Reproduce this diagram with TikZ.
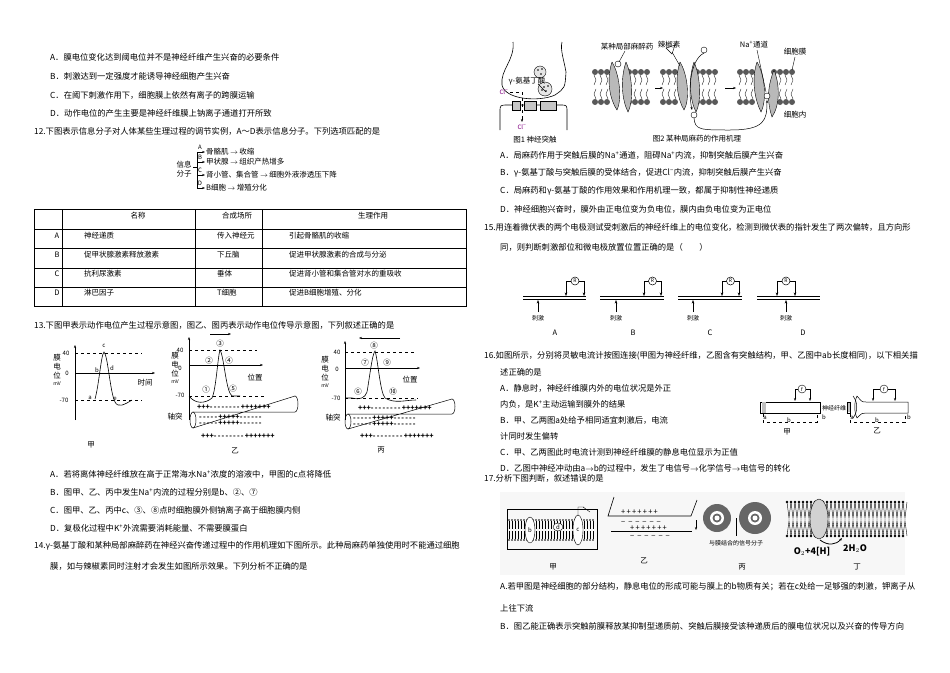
\documentclass[tikz,border=0pt]{standalone}
\usepackage{fontspec}
\setmainfont{Noto Sans CJK SC}
\usetikzlibrary{arrows.meta}
\tikzset{
 t/.style={anchor=west,inner sep=0pt,font=\fontsize{8.3}{10}\selectfont},
 s/.style={inner sep=0pt,font=\fontsize{7.5}{9}\selectfont},
 ss/.style={inner sep=0pt,font=\fontsize{6}{7}\selectfont},
 pm/.style={anchor=west,inner sep=0pt,font=\fontsize{7}{8}\selectfont\bfseries},
 ln/.style={line width=0.6pt},
 dl/.style={dashed,line width=0.5pt},
 ar/.style={-{Stealth[length=3pt]},line width=0.5pt},
 prot/.style={fill=gray!55,draw=black,line width=0.4pt},
}
\newcommand{\upp}[1]{\textsuperscript{#1}}
\newcommand{\chgout}[3]{\foreach \i in {1,...,#1}{+}\foreach \i in {1,...,#2}{-\,}\foreach \i in {1,...,#3}{+}}
\newcommand{\chgin}[3]{\foreach \i in {1,...,#1}{-\,}\foreach \i in {1,...,#2}{+}\foreach \i in {1,...,#3}{-\,}}
\begin{document}
\begin{tikzpicture}[x=1pt,y=-1pt]
\useasboundingbox (0,0) rectangle (950,672);
% ---------- left column text ----------
\node[t] (l1) at (50,57) {A．膜电位变化达到阈电位并不是神经纤维产生兴奋的必要条件};
\node[t] (l2) at (50,76) {B．刺激达到一定强度才能诱导神经细胞产生兴奋};
\node[t] (l3) at (50,95) {C．在阈下刺激作用下，细胞膜上依然有离子的跨膜运输};
\node[t] (l4) at (50,113) {D．动作电位的产生主要是神经纤维膜上钠离子通道打开所致};
\node[t] (q12) at (34,131) {12.下图表示信息分子对人体某些生理过程的调节实例，A～D表示信息分子。下列选项匹配的是};
% q12 scheme
\node[s,align=center] (xx) at (184,169) {信息\\分子};
\draw[ln] (193,167)--(197,167);
\draw[ln] (197,152)--(197,188);
\foreach \y/\l/\tx in {152/A/骨骼肌$\,\to\,$收缩,162/B/甲状腺$\,\to\,$组织产热增多,175/C/肾小管、集合管$\,\to\,$细胞外液渗透压下降,188/D/B细胞$\,\to\,$增殖分化}{
 \draw[ar] (197,\y)--(205,\y);
 \node[ss] (lb\l) at (200,\y-5) {\l};
 \node[s,anchor=west] (sc\l) at (206,\y) {\tx};}
% table
\draw[line width=0.5pt] (34,209) rectangle (466,306);
\foreach \y in {229,248,268,287} \draw[line width=0.4pt] (34,\y)--(466,\y);
\foreach \x in {62,195,262} \draw[line width=0.4pt] (\x,209)--(\x,306);
\node[s] (h1) at (138,216) {名称};
\node[s] (h2) at (237,216) {合成场所};
\node[s] (h3) at (373,216) {生理作用};
\foreach \y/\a/\b/\c/\d in {236/A/神经递质/传入神经元/引起骨骼肌的收缩,255/B/促甲状腺激素释放激素/下丘脑/促进甲状腺激素的合成与分泌,274/C/抗利尿激素/垂体/促进肾小管和集合管对水的重吸收,293/D/淋巴因子/T细胞/促进B细胞增殖、分化}{
 \node[s] (ta\a) at (57,\y) {\a};
 \node[s,anchor=west] (tb\a) at (84,\y) {\b};
 \node[s,anchor=west] (tc\a) at (217,\y) {\c};
 \node[s,anchor=west] (td\a) at (289,\y) {\d};}
\node[t] (q13) at (34,325) {13.下图甲表示动作电位产生过程示意图，图乙、图丙表示动作电位传导示意图，下列叙述正确的是};
% ---- jia
\draw[ar] (75,420)--(75,345);
\draw[ar] (75,373)--(155,373);
\draw[dl] (75,353)--(142,353);
\draw[dl] (75,400)--(142,400);
\draw[line width=0.6pt] (95,399) .. controls (99,385) and (101,355) .. (104,352) .. controls (108,356) and (110,392) .. (115,402) .. controls (118,408) and (124,405) .. (132,400);
\node[s,align=center] (jy) at (57,370) {膜\\电\\位\\[-2pt]{\fontsize{5}{6}\selectfont mV}};
\node[ss] (j40) at (66,353) {40};
\node[ss] (j0) at (67,373) {0};
\node[ss] (j70) at (64,400) {-70};
\node[ss] (ja) at (90,398) {a};
\node[ss] (jb) at (97,370) {b};
\node[ss] (jc) at (104,346) {c};
\node[ss] (jd) at (112,368) {d};
\node[ss] (je) at (115,399) {e};
\node[s] (jt) at (145,383) {时间};
\node[s] (jl) at (91,445) {甲};
% ---- yi
\draw[ar] (189,420)--(189,337);
\draw[ar] (189,365)--(263,365);
\draw[dl] (189,350)--(257,350);
\draw[dl] (189,396)--(264,396);
\draw[line width=0.6pt] (189,396) .. controls (195,404) and (205,404) .. (212,398) .. controls (216,390) and (218,355) .. (220,350) .. controls (224,356) and (226,392) .. (232,396) -- (240,396);
\node[s,align=center] (yy) at (175,368) {膜\\电\\位\\[-2pt]{\fontsize{5}{6}\selectfont mV}};
\node[ss] (y40) at (180,350) {40};
\node[ss] (y0) at (180,368) {0};
\node[ss] (y70) at (180,395) {-70};
\node[s] (n1) at (206,390) {①};
\node[s] (n2) at (209,361) {②};
\node[s] (n3) at (220,344) {③};
\node[s] (n4) at (229,361) {④};
\node[s] (n5) at (233,389) {⑤};
\draw[ar] (210,334)--(231,334);
\node[s] (yp) at (255,378) {位置};
\draw[line width=0.5pt] (193,412)--(295,412) arc (90:-90:3 and 8) -- (193,428);
\draw[line width=0.5pt] (193,420) ellipse (3 and 8);
\node[pm] (yo1) at (197,407) {\chgout{3}{8}{7}};
\node[pm] (yi1) at (199,417) {\chgin{5}{5}{6}};
\node[pm] (yi2) at (199,423) {\chgin{5}{5}{6}};
\node[pm] (yo2) at (201,436) {\chgout{3}{8}{7}};
\node[s] (yz) at (175,417) {轴突};
\node[s] (yl) at (235,451) {乙};
% ---- bing
\draw[ar] (345,420)--(345,341);
\draw[-{Stealth[length=3pt]},line width=1pt] (345,368)--(420,368);
\draw[dl] (345,352)--(415,352);
\draw[dl] (345,398)--(418,398);
\draw[line width=0.6pt] (345,398) -- (352,398) .. controls (360,400) and (365,398) .. (367,392) .. controls (370,375) and (372,355) .. (375,351) .. controls (378,360) and (380,392) .. (385,398) .. controls (395,404) and (405,400) .. (416,400);
\node[s,align=center] (by) at (325,372) {膜\\电\\位\\[-2pt]{\fontsize{5}{6}\selectfont mV}};
\node[ss] (b40) at (337,352) {40};
\node[ss] (b0) at (337,369) {0};
\node[ss] (b70) at (336,398) {-70};
\node[s] (n6) at (358,392) {⑥};
\node[s] (n7) at (365,363) {⑦};
\node[s] (n8) at (374,346) {⑧};
\node[s] (n9) at (387,363) {⑨};
\node[s] (n10) at (393,392) {⑩};
\draw[ar] (400,338)--(359,338);
\node[s] (bp) at (410,380) {位置};
\draw[line width=0.5pt] (348,414)--(452,414) arc (90:-90:3 and 7.5) -- (348,429);
\draw[line width=0.5pt] (348,421.5) ellipse (3 and 7.5);
\node[pm] (bo1) at (358,408) {\chgout{3}{8}{7}};
\node[pm] (bi1) at (353,418) {\chgin{5}{5}{6}};
\node[pm] (bi2) at (353,424) {\chgin{5}{5}{6}};
\node[pm] (bo2) at (360,436) {\chgout{3}{8}{7}};
\node[s] (bz) at (333,418) {轴突};
\node[s] (bl) at (381,450) {丙};
% options 13
\node[t] (o13a) at (50,474) {A．若将离体神经纤维放在高于正常海水Na\upp{+}浓度的溶液中，甲图的c点将降低};
\node[t] (o13b) at (50,492) {B．图甲、乙、丙中发生Na\upp{+}内流的过程分别是b、②、⑦};
\node[t] (o13c) at (50,510) {C．图甲、乙、丙中c、③、⑧点时细胞膜外侧钠离子高于细胞膜内侧};
\node[t] (o13d) at (50,528) {D．复极化过程中K\upp{+}外流需要消耗能量、不需要膜蛋白};
\node[t] (q14) at (34,546) {14.γ-氨基丁酸和某种局部麻醉药在神经兴奋传递过程中的作用机理如下图所示。此种局麻药单独使用时不能通过细胞};
\node[t] (q14b) at (50,566) {膜，如与辣椒素同时注射才会发生如图所示效果。下列分析不正确的是};
% ---------- right column ----------
% fig1 synapse
\draw[line width=0.6pt] (513,42) .. controls (515,60) and (500,70) .. (502,85) .. controls (505,100) and (540,102) .. (555,95) .. controls (565,88) .. (566,72) .. controls (564,60) and (560,50) .. (562,42);
\draw[line width=0.6pt] (500,130) -- (500,112) .. controls (500,105) .. (508,105) -- (560,105) .. controls (567,105) .. (567,112) -- (567,130);
\foreach \x/\w in {512/8,524/12,540/16} \draw[fill=gray!45,line width=0.4pt] (\x,101) rectangle ++(\w,9);
\draw[fill=gray!20] (540,72) circle (6);
\draw[fill=gray!20] (545,89) circle (7);
\foreach \a/\b in {538/70,541/74,542/69,544/87,546/91,548/86,542/90} \fill (\a,\b) circle (0.8);
\node[s] (gaba) at (527,81) {γ-氨基丁酸};
\draw[line width=0.4pt] (538,84)--(546,92);
\node[ss,text=violet] (cl1) at (504,92) {Cl\upp{−}};
\draw[dashed,line width=0.4pt] (510,92)--(522,92)--(522,118);
\draw[ar] (522,118)--(522,122);
\node[ss,text=violet] (cl2) at (522,127) {Cl\upp{−}};
\node[s] (c1) at (535,140) {图1 神经突触};
% fig2 membranes
\foreach \xo in {595,663,740}{
 \foreach \dx in {0,6,12,34,40,46,52}{
  \fill[gray!70!black] (\xo+\dx,72) circle (3);
  \fill[gray!70!black] (\xo+\dx,102) circle (3);
  \draw[line width=0.3pt] (\xo+\dx-1,75) -- (\xo+\dx+1,80) -- (\xo+\dx-1,85);
  \draw[line width=0.3pt] (\xo+\dx+1,89) -- (\xo+\dx-1,94) -- (\xo+\dx+1,99);}}
\draw[prot] (612,62) .. controls (606,80) and (610,100) .. (617,110) .. controls (622,100) and (620,75) .. (612,62);
\draw[prot] (626,62) .. controls (620,80) and (622,100) .. (628,112) .. controls (634,100) and (632,75) .. (626,62);
\draw[fill=white] (618,64) circle (3);
\draw[prot] (680,62) .. controls (674,80) and (678,100) .. (684,110) .. controls (690,100) and (688,75) .. (680,62);
\draw[prot] (694,62) .. controls (688,80) and (690,100) .. (696,112) .. controls (702,100) and (700,75) .. (694,62);
\draw[prot] (757,62) .. controls (751,80) and (755,100) .. (761,112) .. controls (767,100) and (765,75) .. (757,62);
\draw[prot] (774,70) .. controls (766,90) and (768,105) .. (772,117) .. controls (780,105) and (780,85) .. (774,70);
\draw[fill=white] (767,96) circle (3);
\draw[ar] (655,88)--(663,88);
\draw[ar] (725,88)--(736,88);
\draw[fill=white] (666,48) -- (675,45) -- (672,54) -- cycle;
\draw[line width=0.4pt] (672,52)--(680,66);
\draw[fill=white] (704,50) circle (3);
\draw[ar] (704,53) .. controls (690,60) and (688,90) .. (692,110);
\draw[fill=white] (694,115) circle (3);
\draw[ar] (694,118) .. controls (695,130) and (700,130) .. (730,130) .. controls (765,130) and (767,120) .. (767,100);
\node[s] (m1) at (627,47) {某种局部麻醉药};
\draw[line width=0.4pt] (625,51)--(619,62);
\node[s] (m2) at (669,45) {辣椒素};
\node[s] (m3) at (754,45) {Na\upp{+}通道};
\draw[line width=0.4pt] (757,50)--(766,92);
\node[s] (m4) at (795,52) {细胞膜};
\draw[line width=0.4pt] (795,57)--(792,70);
\node[s] (m5) at (795,115) {细胞内};
\node[s] (c2) at (697,139) {图2 某种局麻药的作用机理};
% options 14
\node[t] (o14a) at (500,155) {A．局麻药作用于突触后膜的Na\upp{+}通道，阻碍Na\upp{+}内流，抑制突触后膜产生兴奋};
\node[t] (o14b) at (500,173) {B．γ-氨基丁酸与突触后膜的受体结合，促进Cl\upp{−}内流，抑制突触后膜产生兴奋};
\node[t] (o14c) at (500,191) {C．局麻药和γ-氨基丁酸的作用效果和作用机理一致，都属于抑制性神经递质};
\node[t] (o14d) at (500,209) {D．神经细胞兴奋时，膜外由正电位变为负电位，膜内由负电位变为正电位};
\node[t] (q15) at (484,227) {15.用连着微伏表的两个电极测试受刺激后的神经纤维上的电位变化，检测到微伏表的指针发生了两次偏转，且方向形};
\node[t] (q15b) at (500,247) {同，则判断刺激部位和微电极放置位置正确的是（\quad\quad）};
% fig15
\foreach \xa/\xb/\st/\la/\lb/\lt in {523/586/538/566/584/A,600/664/616/644/661/B,678/742/693/722/739/C,757/820/786/777/795/D}{
 \draw[line width=0.5pt] (\xa,296)--(\xb,296);
 \draw[line width=0.5pt] (\xa,299)--(\xb,299);
 \pgfmathsetmacro{\mx}{(\la+\lb)/2}
 \draw[line width=0.5pt] (\la,289)--(\la,281)--(\lb,281)--(\lb,289);
 \draw[fill=white,line width=0.5pt] (\mx,281) circle (4);
 \node[ss] at (\mx,281) {\tiny R};
 \draw[-{Stealth[length=3.5pt]},line width=0.6pt] (\la,286)--(\la,296);
 \draw[-{Stealth[length=3.5pt]},line width=0.6pt] (\lb,286)--(\lb,296);
 \draw[-{Stealth[length=3.5pt]},line width=0.6pt] (\st,312)--(\st,300);
 \node[ss] at (\st,318) {刺激};
 \node[s] at (\st+17,333) {\lt};}
% q16
\node[t] (q16) at (484,356) {16.如图所示，分别将灵敏电流计按图连接(甲图为神经纤维，乙图含有突触结构，甲、乙图中ab长度相同)，以下相关描};
\node[t] (q16b) at (500,372) {述正确的是};
\node[t] (o16a) at (500,388) {A．静息时，神经纤维膜内外的电位状况是外正};
\node[t] (o16a2) at (500,404) {内负，是K\upp{+}主动运输到膜外的结果};
\node[t] (o16b) at (500,420) {B．甲、乙两图a处给予相同适宜刺激后，电流};
\node[t] (o16b2) at (500,436) {计同时发生偏转};
\node[t] (o16c) at (500,452) {C．甲、乙两图此时电流计测到神经纤维膜的静息电位显示为正值};
\node[t] (o16d) at (500,468) {D．乙图中神经冲动由a$\to$b的过程中，发生了电信号$\to$化学信号$\to$电信号的转化};
% fig16 jia
\draw[line width=0.5pt] (760,402) rectangle (820,413);
\fill[gray!50] (762,402) rectangle (766,413);
\draw[line width=0.5pt] (795,398)--(795,389)--(810,389)--(810,398);
\draw[ar] (795,396)--(795,401); \draw[ar] (810,396)--(810,401);
\draw[fill=white] (802,389) circle (4); \node[ss] at (802,389) {\tiny f};
\draw[dl] (763,414)--(763,422)--(817,422)--(817,414);
\node[ss] (fa1) at (765,418) {a}; \node[ss] (fb1) at (824,417) {b}; \node[ss] (fm1) at (789,420) {b};
\node[ss] (nf) at (834,408) {神经纤维};
\node[s] (fl1) at (787,432) {甲};
% fig16 yi
\draw[line width=0.5pt] (847,402) rectangle (850,413);
\fill[gray!50] (848,403) rectangle (850,412);
\draw[line width=0.5pt] (853,396) .. controls (858,402) and (858,412) .. (853,418);
\draw[line width=0.5pt] (857,396) .. controls (854,402) and (854,412) .. (857,418);
\draw[line width=0.5pt] (857,396) .. controls (862,402) .. (866,402) -- (908,402) -- (908,413) -- (866,413) .. controls (862,413) .. (857,418);
\draw[line width=0.5pt] (873,398)--(873,389)--(895,389)--(895,398);
\draw[ar] (873,396)--(873,401); \draw[ar] (895,396)--(895,401);
\draw[fill=white] (884,389) circle (4); \node[ss] at (884,389) {\tiny f};
\draw[dl] (850,414)--(850,422)--(905,422)--(905,414);
\node[ss] (fa2) at (852,418) {a}; \node[ss] (fb2) at (909,417) {b}; \node[ss] (fm2) at (877,420) {b};
\node[s] (fl2) at (877,431) {乙};
% q17
\node[t] (q17) at (484,478) {17.分析下图判断，叙述错误的是};
\fill[gray!6] (500,492) rectangle (905,575);
% 17 jia
\draw[line width=0.5pt] (507,509) rectangle (597,549);
\foreach \x in {509,512,...,594}{\fill (\x,520) circle (0.9); \fill (\x,540) circle (0.9); \draw[line width=0.2pt] (\x,521)--(\x,529); \draw[line width=0.2pt] (\x,531)--(\x,539);}
\draw[fill=white] (530,530) ellipse (5 and 13);
\draw[fill=white] (578,530) ellipse (5 and 15);
\draw[fill=white] (558,527) ellipse (5 and 4);
\node[ss] at (530,530) {b}; \node[ss] at (558,527) {d}; \node[ss] at (578,530) {c};
\draw[line width=0.4pt] (578,515)--(578,507)--(584,507) (583,507)--(590,512);
\node[s] at (553,567) {甲};
% 17 yi
\draw[line width=0.6pt] (614,497)--(608,516)--(691,516)--(697,500);
\node[s,anchor=west] at (621,512) {+\,+\,+\,+\,+\,+\,+};
\node[s,anchor=west] at (621,523) {−\ \,−\ \,−\ \,−\ \,−\ \,−};
\draw[line width=0.6pt] (611,531)--(692,531);
\node[s,anchor=west] at (630,528) {+\,+\,+\,+\,+\,+\,+};
\node[s,anchor=west] at (630,537) {−\ \,−\ \,−\ \,−\ \,−\ \,−};
\draw[ar,line width=0.8pt] (696,520)--(696,530);
\node[s] at (644,561) {乙};
% 17 bing
\fill[gray!80!black] (717,518) circle (14); \fill[white] (717,518) circle (7); \fill[gray!80!black] (717,518) circle (4.5); \fill[white] (717,518) circle (2.5);
\fill[gray!80!black] (755,518) circle (16); \fill[white] (755,518) circle (7); \fill[gray!80!black] (755,518) circle (4.5); \fill[white] (755,518) circle (2.5);
\draw[line width=0.4pt] (736,518)--(736,536);
\node[ss] at (736,543) {与膜结合的信号分子};
\node[s] at (742,567) {丙};
% 17 ding
\foreach \x in {787,791,...,903}{
 \draw[line width=0.4pt] (\x,502)--(\x+2,518)--(\x+4,502);
 \draw[line width=0.4pt] (\x,536)--(\x+2,521)--(\x+4,536);
 \fill (\x,502) circle (1.3); \fill (\x,536) circle (1.3);}
\draw[fill=gray!35] (819,519) ellipse (9 and 20);
\draw[ar,line width=0.8pt] (820,540) .. controls (828,546) and (836,545) .. (842,538);
\node[font=\fontsize{9}{10}\selectfont\bfseries,inner sep=0pt] (o2) at (812,552) {O$_2$+4[H]};
\node[font=\fontsize{9}{10}\selectfont\bfseries,inner sep=0pt] (h2o) at (855,549) {2H$_2$O};
\node[s] at (857,567) {丁};
\node[t] (o17a) at (500,587) {A.若甲图是神经细胞的部分结构，静息电位的形成可能与膜上的b物质有关；若在c处给一足够强的刺激，钾离子从};
\node[t] (o17a2) at (500,608) {上往下流};
\node[t] (o17b) at (500,626) {B．图乙能正确表示突触前膜释放某抑制型递质前、突触后膜接受该种递质后的膜电位状况以及兴奋的传导方向};
\end{tikzpicture}
\end{document}
